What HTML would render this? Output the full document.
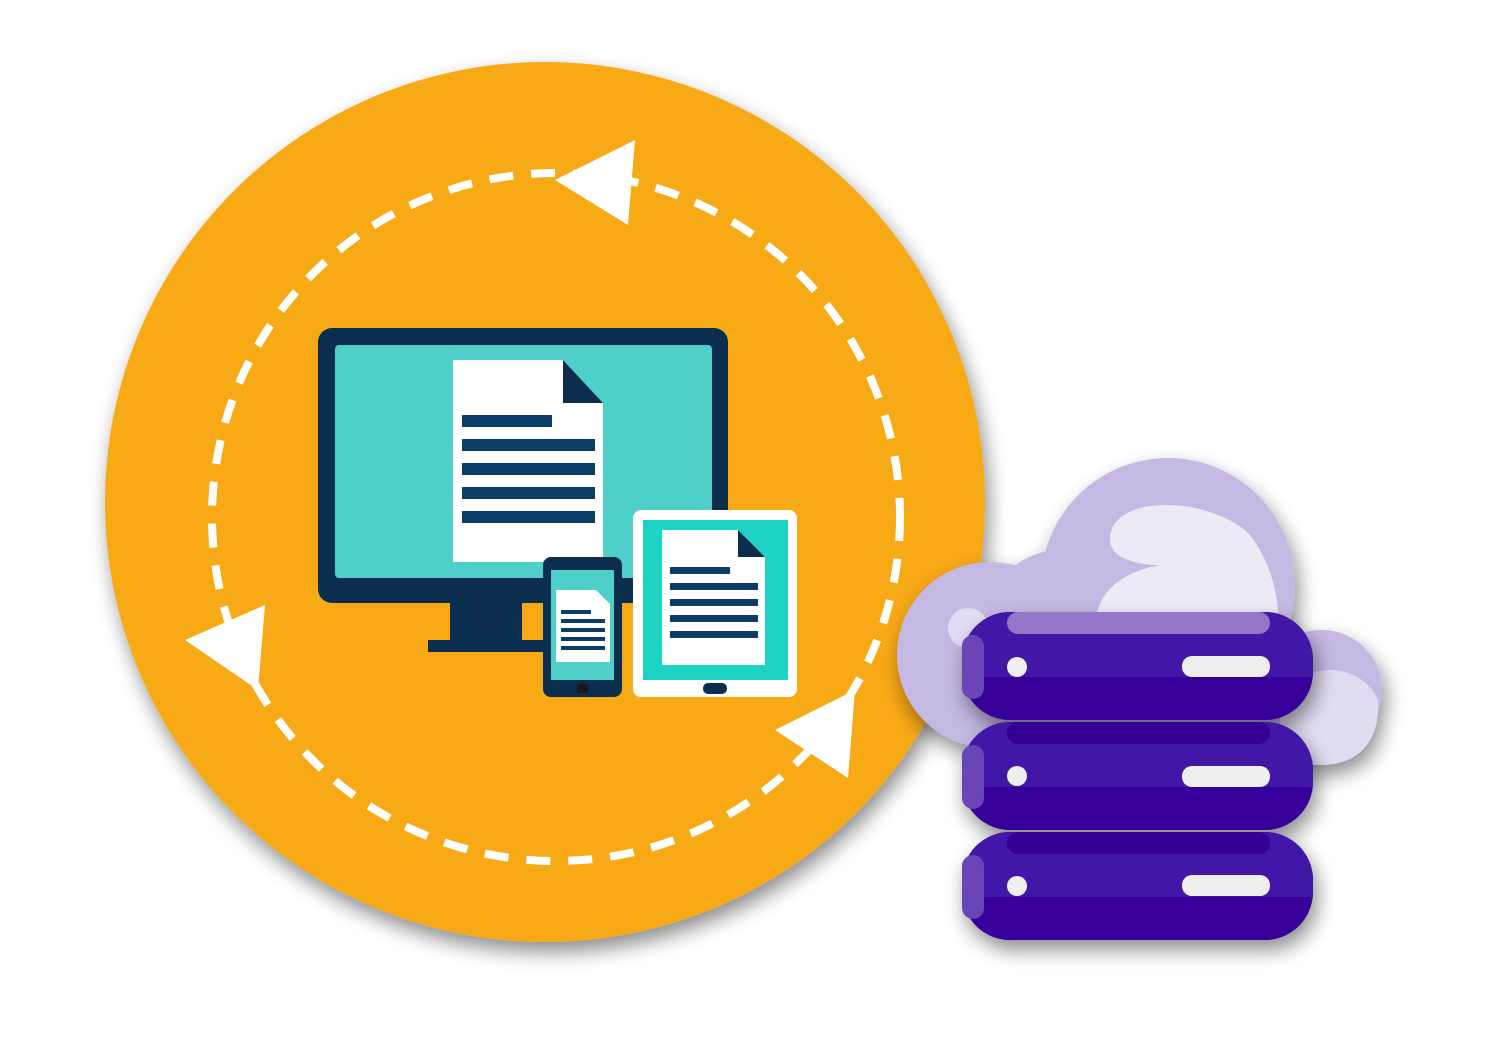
<!DOCTYPE html>
<html><head><style>html,body{margin:0;padding:0;background:#fff;width:1500px;height:1049px;overflow:hidden}</style></head>
<body>
<svg width="1500" height="1049" viewBox="0 0 1500 1049" xmlns="http://www.w3.org/2000/svg">
<defs>
<filter id="sh" x="-20%" y="-20%" width="140%" height="140%">
<feGaussianBlur in="SourceAlpha" stdDeviation="10"/>
<feOffset dx="4" dy="10"/>
<feComponentTransfer><feFuncA type="linear" slope="0.45"/></feComponentTransfer>
<feMerge><feMergeNode/><feMergeNode in="SourceGraphic"/></feMerge>
</filter>
</defs>
<circle cx="545" cy="502" r="440" fill="#f8a915" filter="url(#sh)"/>
<circle cx="556" cy="517" r="344" fill="none" stroke="#fff" stroke-width="8" stroke-dasharray="24 18"/>
<polygon points="555,180 635,140 628,225" fill="#fff"/>
<polygon points="185,640 265,605 258,690" fill="#fff"/>
<polygon points="855,690 775,730 848,778" fill="#fff"/>
<rect x="318" y="328" width="410" height="275" rx="14" fill="#0b2e4f"/>
<rect x="335" y="345" width="377" height="233" rx="4" fill="#4ecfc9"/>
<rect x="450" y="600" width="72" height="42" fill="#0b2e4f"/>
<rect x="428" y="640" width="117" height="12" fill="#0b2e4f"/>
<polygon points="453,360 563,360 603,403 603,562 453,562" fill="#fff"/>
<polygon points="563,360 603,403 563,403" fill="#0b2e4f"/>
<g fill="#0b3d66">
<rect x="462" y="415" width="90" height="12"/>
<rect x="462" y="439" width="133" height="12"/>
<rect x="462" y="463" width="133" height="12"/>
<rect x="462" y="487" width="133" height="12"/>
<rect x="462" y="511" width="133" height="12"/>
</g>
<rect x="543" y="557" width="79" height="140" rx="8" fill="#0b2e4f"/>
<rect x="551" y="570" width="63" height="110" fill="#4ecfc9"/>
<polygon points="556,590 596,590 610,604 610,662 556,662" fill="#fff"/>
<g fill="#0b3d66">
<rect x="561" y="610" width="30" height="4"/><rect x="561" y="619" width="44" height="4"/><rect x="561" y="628" width="44" height="4"/><rect x="561" y="637" width="44" height="4"/><rect x="561" y="646" width="44" height="4"/>
</g>
<rect x="577" y="684" width="11" height="9" rx="2" fill="#1a1a1a"/>
<rect x="633" y="510" width="164" height="187" rx="8" fill="#fff"/>
<rect x="643" y="520" width="145" height="160" fill="#1dd3c4"/>
<polygon points="662,530 738,530 765,557 765,665 662,665" fill="#fff"/>
<polygon points="738,530 765,557 738,557" fill="#0b2e4f"/>
<g fill="#0b3d66">
<rect x="670" y="567" width="60" height="7"/><rect x="670" y="583" width="88" height="7"/><rect x="670" y="599" width="88" height="7"/><rect x="670" y="615" width="88" height="7"/><rect x="670" y="631" width="88" height="7"/>
</g>
<rect x="703" y="683" width="24" height="11" rx="5" fill="#0b2e4f"/>
<!-- cloud -->
<g filter="url(#sh)">
<g fill="#c5b8e3">
<circle cx="1168" cy="585" r="127"/>
<circle cx="990" cy="655" r="93"/>
<ellipse cx="1060" cy="640" rx="80" ry="90"/>
<circle cx="1322" cy="690" r="60"/>
<rect x="990" y="640" width="330" height="120"/>
</g>
<path d="M1110,540 C1110,495 1200,495 1245,530 C1275,560 1285,620 1275,650 L1095,650 C1090,600 1110,575 1160,565 C1130,565 1110,555 1110,540 Z" fill="#edeaf6"/>
<path d="M1280,700 C1300,660 1360,660 1378,700 C1380,740 1360,765 1320,765 L1280,765 Z" fill="#e2dcf2"/>
<circle cx="968" cy="628" r="20" fill="#e2dcf2"/>
</g>
<g filter="url(#sh)">
<g>
<rect x="962" y="612" width="351" height="108" rx="48" fill="#38009a"/>
<path d="M1010,612 H1265 A48,48 0 0 1 1313,660 V677 H962 V660 A48,48 0 0 1 1010,612 Z" fill="#4212a6"/>
<rect x="1007" y="612" width="263" height="22" rx="11" fill="#9474c9"/>
<rect x="962" y="635" width="22" height="64" rx="11" fill="#6a45b8"/>
<circle cx="1017" cy="667" r="10" fill="#eee"/>
<rect x="1182" y="656" width="88" height="21" rx="10" fill="#eee"/>
</g>
<g>
<rect x="962" y="722" width="351" height="108" rx="48" fill="#38009a"/>
<path d="M1010,722 H1265 A48,48 0 0 1 1313,770 V787 H962 V770 A48,48 0 0 1 1010,722 Z" fill="#4212a6"/>
<rect x="1007" y="722" width="263" height="22" rx="11" fill="#360096"/>
<rect x="962" y="745" width="22" height="64" rx="11" fill="#6a45b8"/>
<circle cx="1017" cy="776" r="10" fill="#eee"/>
<rect x="1182" y="766" width="88" height="21" rx="10" fill="#eee"/>
</g>
<g>
<rect x="962" y="832" width="351" height="108" rx="48" fill="#38009a"/>
<path d="M1010,832 H1265 A48,48 0 0 1 1313,880 V897 H962 V880 A48,48 0 0 1 1010,832 Z" fill="#4212a6"/>
<rect x="1007" y="832" width="263" height="22" rx="11" fill="#360096"/>
<rect x="962" y="855" width="22" height="64" rx="11" fill="#6a45b8"/>
<circle cx="1017" cy="886" r="10" fill="#eee"/>
<rect x="1182" y="875" width="88" height="21" rx="10" fill="#eee"/>
</g>
</g>
</svg>
</body></html>
